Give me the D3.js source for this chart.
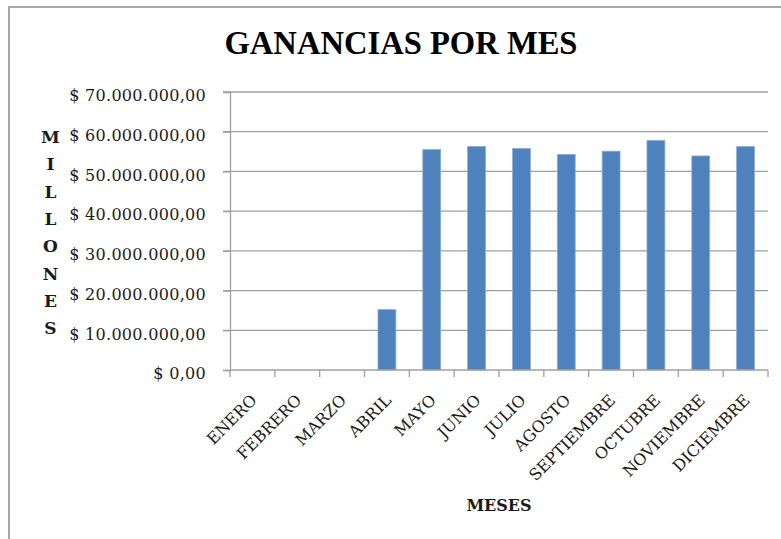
<!DOCTYPE html>
<html>
<head>
<meta charset="utf-8">
<script src="https://cdn.jsdelivr.net/npm/d3@7"></script>
<style>
  html, body { margin: 0; padding: 0; background: #fff; }
  svg { display: block; }
</style>
</head>
<body>
<div id="chart"></div>
<script>
// --- data ---
const months = ["ENERO", "FEBRERO", "MARZO", "ABRIL", "MAYO", "JUNIO", "JULIO",
                "AGOSTO", "SEPTIEMBRE", "OCTUBRE", "NOVIEMBRE", "DICIEMBRE"];
const ganancias = [0, 0, 0, 15200000, 55500000, 56300000, 55800000,
                   54300000, 55100000, 57800000, 53900000, 56300000];
const yTicks = [0, 10000000, 20000000, 30000000, 40000000, 50000000, 60000000, 70000000];
const titleText = "GANANCIAS POR MES";
const yTitle = "MILLONES";
const xTitle = "MESES";

const width = 781, height = 539;
const margin = { top: 92, right: 13, bottom: 169, left: 230 };

const svg = d3.select("#chart").append("svg")
    .attr("width", width)
    .attr("height", height);

// chart frame (cut off at right / bottom like the screenshot)
svg.append("rect")
    .attr("x", 9).attr("y", 7)
    .attr("width", 820).attr("height", 600)
    .attr("fill", "none")
    .attr("stroke", "#a6a6a6")
    .attr("stroke-width", 2);

const x = d3.scaleBand()
    .domain(months)
    .range([margin.left, width - margin.right])
    .paddingInner(0.6)
    .paddingOuter(0.3);

const y = d3.scaleLinear()
    .domain([0, 70000000])
    .range([height - margin.bottom, margin.top]);

// money format like "$ 70.000.000,00"
const locale = d3.formatLocale({
    decimal: ",", thousands: ".", grouping: [3], currency: ["$ ", ""]
});
const money = locale.format("$,.2f");

const gridColor = "#a0a0a0";
const x0 = x.range()[0], x1 = x.range()[1];

// gridlines
svg.append("g").selectAll("line")
    .data(yTicks.filter(d => d > 0))
    .enter().append("line")
    .attr("x1", x0 - 7).attr("x2", x1)
    .attr("y1", d => y(d)).attr("y2", d => y(d))
    .attr("stroke", gridColor)
    .attr("stroke-width", 1.3);

// bars
svg.append("g").selectAll("rect")
    .data(months.map((m, i) => ({ m, v: ganancias[i] })).filter(d => d.v > 0))
    .enter().append("rect")
    .attr("x", d => x(d.m))
    .attr("y", d => y(d.v))
    .attr("width", x.bandwidth())
    .attr("height", d => y(0) - y(d.v))
    .attr("fill", "#4f81bd")
    .attr("stroke", "#8fb0d8")
    .attr("stroke-width", 0.8);

// y axis
const yAxis = d3.axisLeft(y)
    .tickValues(yTicks)
    .tickSize(7)
    .tickPadding(17)
    .tickFormat(money);

const gy = svg.append("g")
    .attr("transform", `translate(${x0},0)`)
    .call(yAxis);
gy.select(".domain").attr("stroke", gridColor).attr("stroke-width", 1.3);
gy.selectAll(".tick line").attr("stroke", gridColor).attr("stroke-width", 1.3);
gy.selectAll(".tick text")
    .attr("dy", "0.55em")
    .style("font-family", "'DejaVu Serif', serif")
    .style("font-size", "16px")
    .style("letter-spacing", "0.3px")
    .attr("fill", "#1a1a1a");

// x axis: ticks at the category boundaries
const boundaries = d3.range(months.length + 1).map(i => x0 + i * (x1 - x0) / months.length);
const gx = svg.append("g");
gx.append("line")
    .attr("x1", x0).attr("x2", x1)
    .attr("y1", y(0)).attr("y2", y(0))
    .attr("stroke", gridColor).attr("stroke-width", 1.3);
gx.selectAll(".tk")
    .data(boundaries)
    .enter().append("line")
    .attr("class", "tk")
    .attr("x1", d => d).attr("x2", d => d)
    .attr("y1", y(0)).attr("y2", y(0) + 7)
    .attr("stroke", gridColor).attr("stroke-width", 1.3);

gx.selectAll("text")
    .data(months)
    .enter().append("text")
    .attr("transform", d => `translate(${x(d) + x.bandwidth() / 2 - 3},${y(0) + 23}) rotate(-45)`)
    .attr("text-anchor", "end")
    .attr("dy", "0.73em")
    .style("font-family", "'DejaVu Serif', serif")
    .style("font-size", "16px")
    .attr("fill", "#1a1a1a")
    .text(d => d);

// title
svg.append("text")
    .attr("x", 401).attr("y", 54)
    .attr("text-anchor", "middle")
    .attr("textLength", 353)
    .attr("lengthAdjust", "spacingAndGlyphs")
    .style("font-family", "'Liberation Serif', serif")
    .style("font-weight", "bold")
    .style("font-size", "33px")
    .attr("fill", "#000")
    .text(titleText);

// vertical stacked y title
const yt = svg.append("text")
    .attr("text-anchor", "middle")
    .style("font-family", "'DejaVu Serif', serif")
    .style("font-weight", "bold")
    .style("font-size", "17px")
    .attr("fill", "#1a1a1a");
yt.selectAll("tspan")
    .data(yTitle.split(""))
    .enter().append("tspan")
    .attr("x", 50.5)
    .attr("y", (d, i) => 143 + i * 27.3)
    .text(d => d);

// x title
svg.append("text")
    .attr("x", (x0 + x1) / 2).attr("y", 511)
    .attr("text-anchor", "middle")
    .style("font-family", "'DejaVu Serif', serif")
    .style("font-weight", "bold")
    .style("font-size", "16px")
    .attr("fill", "#1a1a1a")
    .text(xTitle);
</script>
</body>
</html>
